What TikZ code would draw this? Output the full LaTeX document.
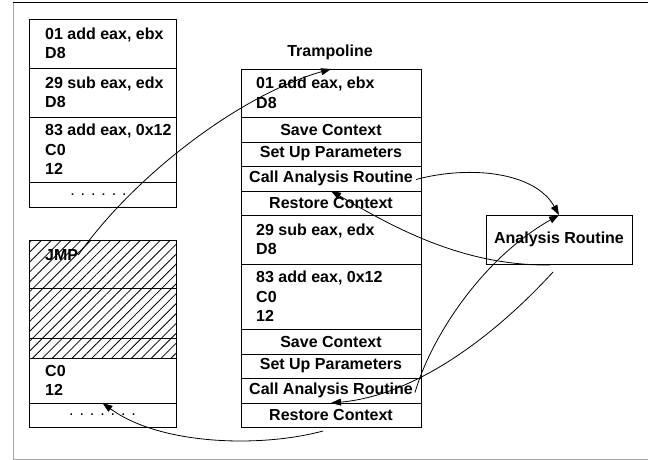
\documentclass[tikz,border=0pt]{standalone}
\usepackage{fontspec}
\setmainfont{Liberation Sans}
\usetikzlibrary{arrows.meta,patterns.meta,calc}
\begin{document}
\begin{tikzpicture}[x=1pt,y=-1pt,
  box/.style={draw,line width=0.9pt,inner sep=0pt,outer sep=0pt,
    font=\fontsize{16}{19.5}\selectfont\bfseries},
  lcol/.style={box,minimum width=147pt},
  tcol/.style={box,minimum width=180pt},
  code/.style={anchor=west,align=left,inner sep=0pt,
    font=\fontsize{16}{19.5}\selectfont\bfseries},
  dotrow/.style={inner sep=0pt,font=\fontsize{16}{19.5}\selectfont},
  conn/.style={line width=0.8pt,-{Triangle[length=10pt,width=7pt]}}]
\useasboundingbox (0,0) rectangle (648,460);
% frame
\draw[black,line width=1pt] (13,3) -- (648,3);
\draw[gray!70,line width=1pt] (13,3) -- (13,459) -- (648,459);
% original code (left, top)
\node[lcol,minimum height=49pt] (l1) at (102.5,43.5) {};
\node[lcol,minimum height=49pt] (l2) at (102.5,92.5) {};
\node[lcol,minimum height=65pt] (l3) at (102.5,149.5) {};
\node[lcol,minimum height=25pt] (l4) at (102.5,194.5) {};
\node[code] (l1t) at ($(l1.west)+(16,0)$) {01 add eax, ebx\\D8};
\node[code] (l2t) at ($(l2.west)+(16,0)$) {29 sub eax, edx\\D8};
\node[code] (l3t) at ($(l3.west)+(16,0)$) {83 add eax, 0x12\\C0\\12};
\node[dotrow] (l4t) at ($(l4)+(-4,0)$) {. . . . . .};
% patched code (left, bottom)
\fill[pattern={Lines[angle=45,distance=7pt,line width=0.8pt]}] (29,240) rectangle (176,358);
\node[lcol,minimum height=48pt] (m1) at (102.5,264) {};
\node[lcol,minimum height=50pt] (m2) at (102.5,313) {};
\node[lcol,minimum height=20pt] (m3) at (102.5,348) {};
\node[lcol,minimum height=45pt] (m4) at (102.5,380.5) {};
\node[lcol,minimum height=24pt] (m5) at (102.5,415) {};
\node[code] (jmp) at (45,255) {JMP};
\node[code] (m4t) at ($(m4.west)+(16,0)$) {C0\\12};
\node[dotrow] (m5t) at (m5) {. . . . . . .};
% trampoline
\node[font=\fontsize{16}{19.5}\selectfont\bfseries,inner sep=0pt] (tl) at (330,52) {Trampoline};
\node[tcol,minimum height=48pt] (t1) at (331,93) {};
\node[tcol,minimum height=25pt] (t2) at (331,129.5) {Save Context};
\node[tcol,minimum height=24pt] (t3) at (331,154) {Set Up Parameters};
\node[tcol,minimum height=25pt] (t4) at (331,178.5) {Call Analysis Routine};
\node[tcol,minimum height=24pt] (t5) at (331,203) {Restore Context};
\node[tcol,minimum height=49pt] (t6) at (331,239.5) {};
\node[tcol,minimum height=65pt] (t7) at (331,296.5) {};
\node[tcol,minimum height=25pt] (t8) at (331,341.5) {Save Context};
\node[tcol,minimum height=24pt] (t9) at (331,366) {Set Up Parameters};
\node[tcol,minimum height=25pt] (t10) at (331,390.5) {Call Analysis Routine};
\node[tcol,minimum height=24pt] (t11) at (331,415) {Restore Context};
\node[code] (t1t) at ($(t1.west)+(15,0)$) {01 add eax, ebx\\D8};
\node[code] (t6t) at ($(t6.west)+(15,0)$) {29 sub eax, edx\\D8};
\node[code] (t7t) at ($(t7.west)+(15,0)$) {83 add eax, 0x12\\C0\\12};
% analysis routine
\node[box,minimum width=146pt,minimum height=49pt] (ar) at (559,239.5) {Analysis Routine};
% connectors
\draw[conn] (jmp.east) .. controls (135,175) and (240,95) .. (t1.north);
\draw[conn] ($(t4.east)+(-5,1)$) .. controls (470,165) and (535,172) .. (ar.north);
\draw[conn] ($(ar.south)+(-9,1)$) .. controls (460,266) and (390,225) .. (t4.south);
\draw[conn] ($(t10.east)+(-6,2)$) .. controls (430,340) and (480,260) .. (ar.north);
\draw[conn] ($(ar.south)+(-6,8)$) .. controls (500,330) and (420,395) .. (t10.south);
\draw[conn] ($(t11.south)+(-8,4)$) .. controls (260,448) and (160,445) .. (m5.north);
\end{tikzpicture}
\end{document}
